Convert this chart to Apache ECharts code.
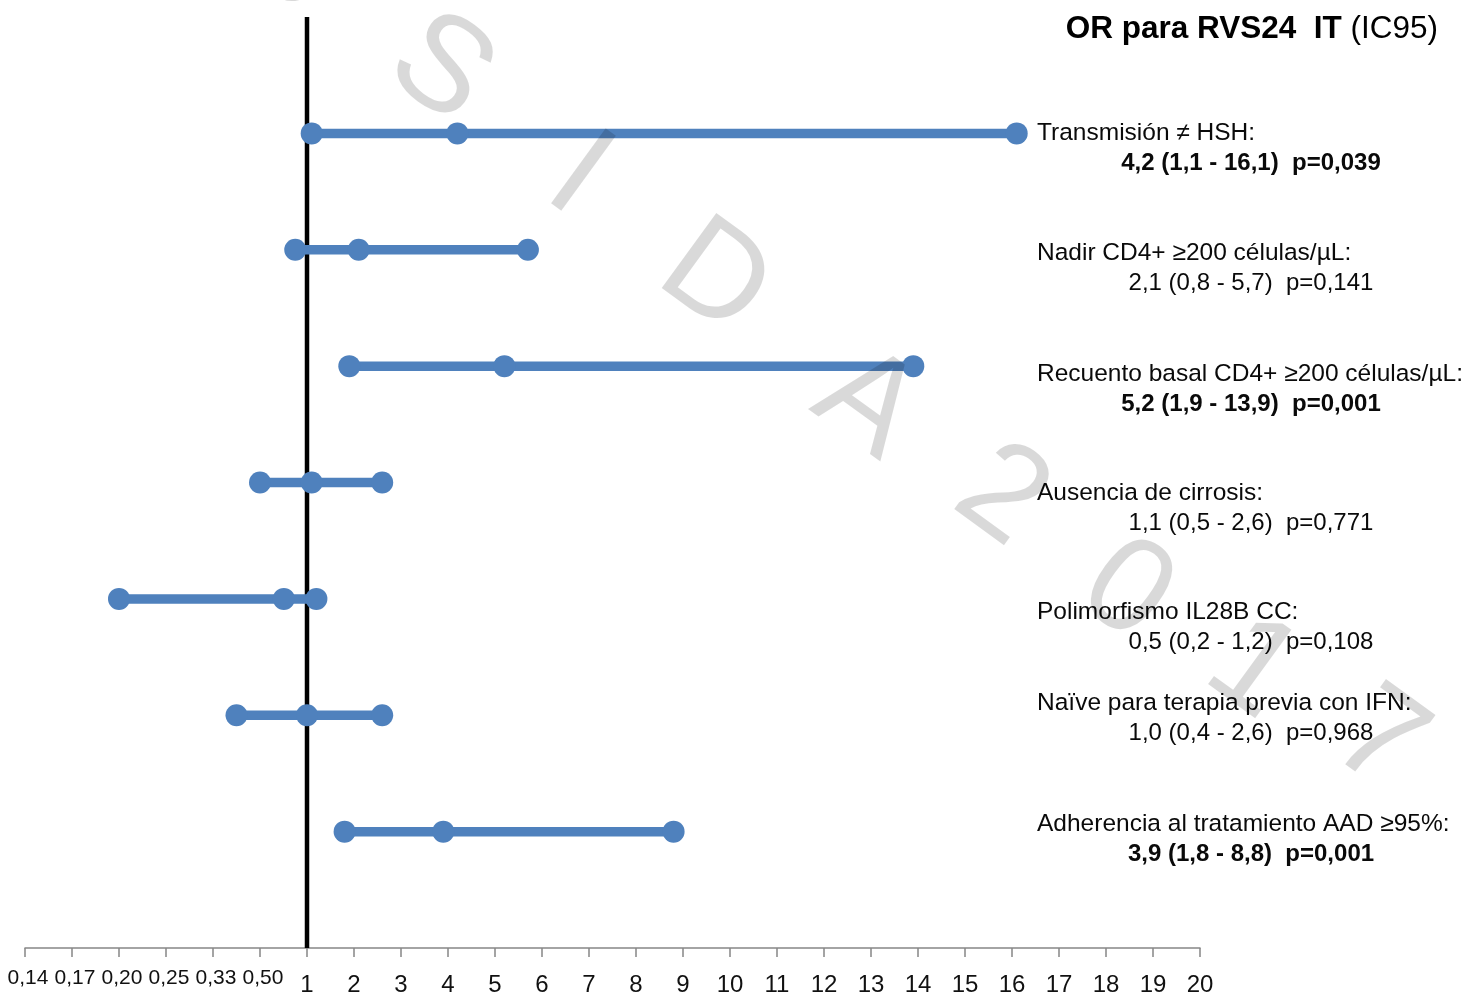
<!DOCTYPE html>
<html>
<head>
<meta charset="utf-8">
<script src="https://cdn.jsdelivr.net/npm/echarts@6/dist/echarts.min.js"></script>
<style>
html,body{margin:0;padding:0;background:#fff;}
#chart{width:1468px;height:993px;}
</style>
</head>
<body>
<div id="chart"></div>
<script>
// ---- data ----
const categories = [
  'Transmisión ≠ HSH:',
  'Nadir CD4+ ≥200 células/µL:',
  'Recuento basal CD4+ ≥200 células/µL:',
  'Ausencia de cirrosis:',
  'Polimorfismo IL28B CC:',
  'Naïve para terapia previa con IFN:',
  'Adherencia al tratamiento AAD ≥95%:'
];
const orEst  = [4.2, 2.1, 5.2, 1.1, 0.67, 1.0, 3.9];
const ciLow  = [1.1, 0.8, 1.9, 0.5, 0.2, 0.4, 1.8];
const ciHigh = [16.1, 5.7, 13.9, 2.6, 1.2, 2.6, 8.8];
const statText = [
  '4,2 (1,1 - 16,1)  p=0,039',
  '2,1 (0,8 - 5,7)  p=0,141',
  '5,2 (1,9 - 13,9)  p=0,001',
  '1,1 (0,5 - 2,6)  p=0,771',
  '0,5 (0,2 - 1,2)  p=0,108',
  '1,0 (0,4 - 2,6)  p=0,968',
  '3,9 (1,8 - 8,8)  p=0,001'
];
const significant = [true, false, true, false, false, false, true];
const tickLabels = ['0,14','0,17','0,20','0,25','0,33','0,50','1','2','3','4','5','6','7','8','9','10','11','12','13','14','15','16','17','18','19','20'];
const refOR = 1;
const titleBold = 'OR para RVS24  IT';
const titleNormal = '(IC95)';
const watermarkLetters = ['e','S','I','D','A','2','0','1','7'];

// ---- scale: OR value -> axis position (reciprocal steps below 1, unit steps above) ----
function toAxis(v) { return v >= 1 ? v + 5 : 7 - 1 / v; }

const nRows = categories.length;
const BLUE = '#4F81BD';
const FONT = "'Liberation Sans', Arial, sans-serif";
const tickPositions = tickLabels.map(function (_, i) { return i; });

const series = [];
series.push({
  type: 'line',
  data: [[toAxis(refOR), 0], [toAxis(refOR), nRows + 1]],
  symbol: 'none',
  lineStyle: { color: '#000', width: 4.5 },
  z: 1,
  silent: true
});
for (let i = 0; i < nRows; i++) {
  const y = nRows - i;
  series.push({
    type: 'line',
    name: categories[i],
    data: [[toAxis(ciLow[i]), y], [toAxis(orEst[i]), y], [toAxis(ciHigh[i]), y]],
    symbol: 'circle',
    symbolSize: 22,
    itemStyle: { color: BLUE },
    lineStyle: { color: BLUE, width: 9.5 },
    z: 3
  });
}

// layout of right-hand labels (pixel rows)
const labelY = [133, 253, 374, 493, 612, 703, 824];
const graphics = [];
for (let i = 0; i < nRows; i++) {
  graphics.push({
    type: 'text', x: 1037, y: labelY[i], z: 50,
    style: { text: categories[i], font: '24.5px ' + FONT, fill: '#0a0a0a', align: 'left', verticalAlign: 'middle' }
  });
  graphics.push({
    type: 'text', x: 1251, y: labelY[i] + 30, z: 50,
    style: { text: statText[i], font: (significant[i] ? 'bold ' : '') + '24px ' + FONT, fill: '#0a0a0a', align: 'center', verticalAlign: 'middle' }
  });
}
graphics.push({
  type: 'text', x: 1438, y: 29, z: 50,
  style: {
    text: '{b|' + titleBold + '}{n|\u00a0' + titleNormal + '}',
    align: 'right', verticalAlign: 'middle',
    rich: {
      b: { font: 'bold 31.5px ' + FONT, fill: '#000' },
      n: { font: '31.5px ' + FONT, fill: '#000' }
    }
  }
});
// watermark
const wmPos = [[294, -38], [440, 70], [578, 177], [714, 280], [866, 405], [1001, 497], [1126, 592], [1252, 670], [1378, 742]];
for (let k = 0; k < watermarkLetters.length; k++) {
  graphics.push({
    type: 'text', x: wmPos[k][0], y: wmPos[k][1], rotation: -36 * Math.PI / 180, z: 100, silent: true,
    style: { text: watermarkLetters[k], font: '135px ' + FONT, fill: 'rgba(0,0,0,0.15)', align: 'center', verticalAlign: 'middle' }
  });
}

const chart = echarts.init(document.getElementById('chart'), null, { renderer: 'canvas' });
chart.setOption({
  animation: false,
  backgroundColor: '#fff',
  grid: { left: 25, right: 268, top: 17, bottom: 45, containLabel: false, outerBoundsMode: 'none' },
  xAxis: {
    type: 'value', min: 0, max: tickLabels.length - 1, interval: 1,
    splitLine: { show: false },
    axisLine: { show: true, lineStyle: { color: '#868686', width: 1.5 } },
    axisTick: { show: true, length: 9, customValues: tickPositions, lineStyle: { color: '#868686', width: 1.5 } },
    axisLabel: {
      margin: 15,
      customValues: tickPositions,
      showMinLabel: true,
      showMaxLabel: true,
      hideOverlap: false,
      formatter: function (v) {
        const idx = Math.round(v);
        const t = tickLabels[idx];
        return idx < 6 ? '{s|' + t + '}' : '{b|' + t + '}';
      },
      rich: {
        s: { fontSize: 21, fontFamily: FONT, color: '#111', lineHeight: 30, padding: [0, 0, 0, 6] },
        b: { fontSize: 24, fontFamily: FONT, color: '#111', lineHeight: 45 }
      }
    }
  },
  yAxis: { type: 'value', min: 0, max: 8, show: false },
  series: series,
  graphic: graphics
});
</script>
</body>
</html>
